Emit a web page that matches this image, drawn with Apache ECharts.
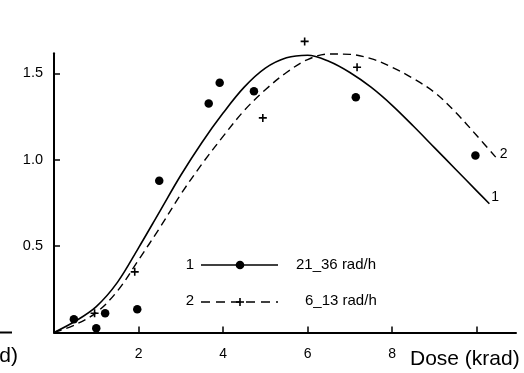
<!DOCTYPE html>
<html>
<head>
<meta charset="utf-8">
<script src="https://cdn.jsdelivr.net/npm/echarts@6/dist/echarts.min.js"></script>
<style>
html,body{margin:0;padding:0;background:#fff;}
#c{width:524px;height:373px;}
</style>
</head>
<body>
<div id="c"></div>
<script>
// ---- data ----
const curve1X = [0, 0.5, 1, 1.5, 2, 2.5, 3, 3.5, 4, 4.5, 5, 5.5, 6, 6.5, 7, 7.5, 8, 8.5, 9, 9.5, 10, 10.3];
const curve1Y = [0, 0.065, 0.15, 0.29, 0.49, 0.70, 0.91, 1.10, 1.27, 1.42, 1.53, 1.59, 1.605, 1.57, 1.505, 1.42, 1.315, 1.195, 1.07, 0.945, 0.82, 0.745];
const curve2X = [0, 0.5, 1, 1.5, 2, 2.5, 3, 3.5, 4, 4.5, 5, 5.5, 6, 6.5, 7, 7.5, 8, 8.5, 9, 9.5, 10, 10.45];
const curve2Y = [0, 0.045, 0.115, 0.24, 0.42, 0.605, 0.80, 0.975, 1.135, 1.285, 1.405, 1.505, 1.58, 1.612, 1.61, 1.585, 1.535, 1.47, 1.39, 1.275, 1.14, 1.015];
const dotsX = [0.47, 1.0, 1.21, 1.97, 2.49, 3.66, 3.92, 4.73, 7.14, 9.97];
const dotsY = [0.076, 0.024, 0.111, 0.134, 0.878, 1.326, 1.445, 1.396, 1.361, 1.024];
const crossX = [0.96, 1.91, 4.94, 5.93, 7.17];
const crossY = [0.111, 0.351, 1.242, 1.685, 1.535];
const curveLabels = ['1', '2'];
const seriesNames = ['21_36 rad/h', '6_13 rad/h'];
const xTicks = [2, 4, 6, 8, 10];
const xTickLabels = [2, 4, 6, 8];
const yTicks = [0.5, 1.0, 1.5];
const xTitle = 'Dose (krad)';

const zip = (a, b) => a.map((v, i) => [v, b[i]]);
const FONT = 'Liberation Sans, Arial, sans-serif';
const crossPath = 'path://M3.2,0H4.8V3.2H8V4.8H4.8V8H3.2V4.8H0V3.2H3.2Z';

const chart = echarts.init(document.getElementById('c'), null, {renderer: 'canvas'});
chart.setOption({
  animation: false,
  backgroundColor: '#fff',
  grid: {left: 54, right: 8, top: 53.3, bottom: 40.5, containLabel: false},
  xAxis: {
    type: 'value', min: 0, max: 10.93,
    axisLine: {show: true, lineStyle: {color: '#000', width: 2}},
    axisTick: {show: true, inside: true, length: 6, customValues: xTicks, lineStyle: {color: '#000', width: 1.5}},
    axisLabel: {show: true, customValues: xTickLabels, margin: 15, color: '#000', fontSize: 14, fontFamily: FONT},
    splitLine: {show: false}
  },
  yAxis: {
    type: 'value', min: 0, max: 1.616,
    axisLine: {show: true, lineStyle: {color: '#000', width: 2}},
    axisTick: {show: true, inside: true, length: 6, customValues: yTicks, lineStyle: {color: '#000', width: 1.5}},
    axisLabel: {show: true, customValues: yTicks, margin: 11, color: '#000', fontSize: 14.5, fontFamily: FONT,
      formatter: v => v.toFixed(1)},
    splitLine: {show: false}
  },
  series: [
    {
      type: 'line', name: seriesNames[0], data: zip(curve1X, curve1Y), smooth: 0.35,
      showSymbol: false, symbol: 'none', clip: false,
      lineStyle: {color: '#000', width: 1.6, opacity: 1},
      endLabel: {show: true, formatter: curveLabels[0], color: '#000', fontSize: 14, fontFamily: FONT, offset: [-6, -7]}
    },
    {
      type: 'line', name: seriesNames[1], data: zip(curve2X, curve2Y), smooth: 0.35,
      showSymbol: false, symbol: 'none', clip: false,
      lineStyle: {color: '#000', width: 1.4, type: [8, 5], opacity: 1},
      endLabel: {show: true, formatter: curveLabels[1], color: '#000', fontSize: 14, fontFamily: FONT, offset: [-4, -3]}
    },
    {
      type: 'scatter', data: zip(dotsX, dotsY), symbol: 'circle', symbolSize: 8.5, clip: false,
      itemStyle: {color: '#000', opacity: 1}
    },
    {
      type: 'scatter', data: zip(crossX, crossY), symbol: crossPath, symbolSize: 8, clip: false,
      itemStyle: {color: '#000', opacity: 1}
    }
  ],
  graphic: [
    // legend row 1
    {type: 'text', x: 190, y: 265, style: {text: curveLabels[0], fill: '#000', font: '15px ' + FONT, align: 'center', verticalAlign: 'middle'}},
    {type: 'line', shape: {x1: 201, y1: 265, x2: 278, y2: 265}, style: {stroke: '#000', lineWidth: 1.5}},
    {type: 'circle', shape: {cx: 240, cy: 265, r: 4.3}, style: {fill: '#000'}},
    {type: 'text', x: 296, y: 265, style: {text: seriesNames[0], fill: '#000', font: '15px ' + FONT, align: 'left', verticalAlign: 'middle'}},
    // legend row 2
    {type: 'text', x: 190, y: 301, style: {text: curveLabels[1], fill: '#000', font: '15px ' + FONT, align: 'center', verticalAlign: 'middle'}},
    {type: 'line', shape: {x1: 201, y1: 302, x2: 278, y2: 302}, style: {stroke: '#000', lineWidth: 1.5, lineDash: [9, 6]}},
    {type: 'rect', shape: {x: 236, y: 301.2, width: 8, height: 1.6}, style: {fill: '#000'}},
    {type: 'rect', shape: {x: 239.2, y: 298, width: 1.6, height: 8}, style: {fill: '#000'}},
    {type: 'text', x: 305, y: 301, style: {text: seriesNames[1], fill: '#000', font: '15px ' + FONT, align: 'left', verticalAlign: 'middle'}},
    // axis title
    {type: 'text', x: 410, y: 359, style: {text: xTitle, fill: '#000', font: '21px ' + FONT, align: 'left', verticalAlign: 'middle'}},
    // fragment of neighbouring panel at the left edge
    {type: 'line', shape: {x1: 0, y1: 332.5, x2: 12, y2: 332.5}, style: {stroke: '#000', lineWidth: 2}},
    {type: 'text', x: 18, y: 356, style: {text: 'd)', fill: '#000', font: '21px ' + FONT, align: 'right', verticalAlign: 'middle'}}
  ]
});
</script>
</body>
</html>
